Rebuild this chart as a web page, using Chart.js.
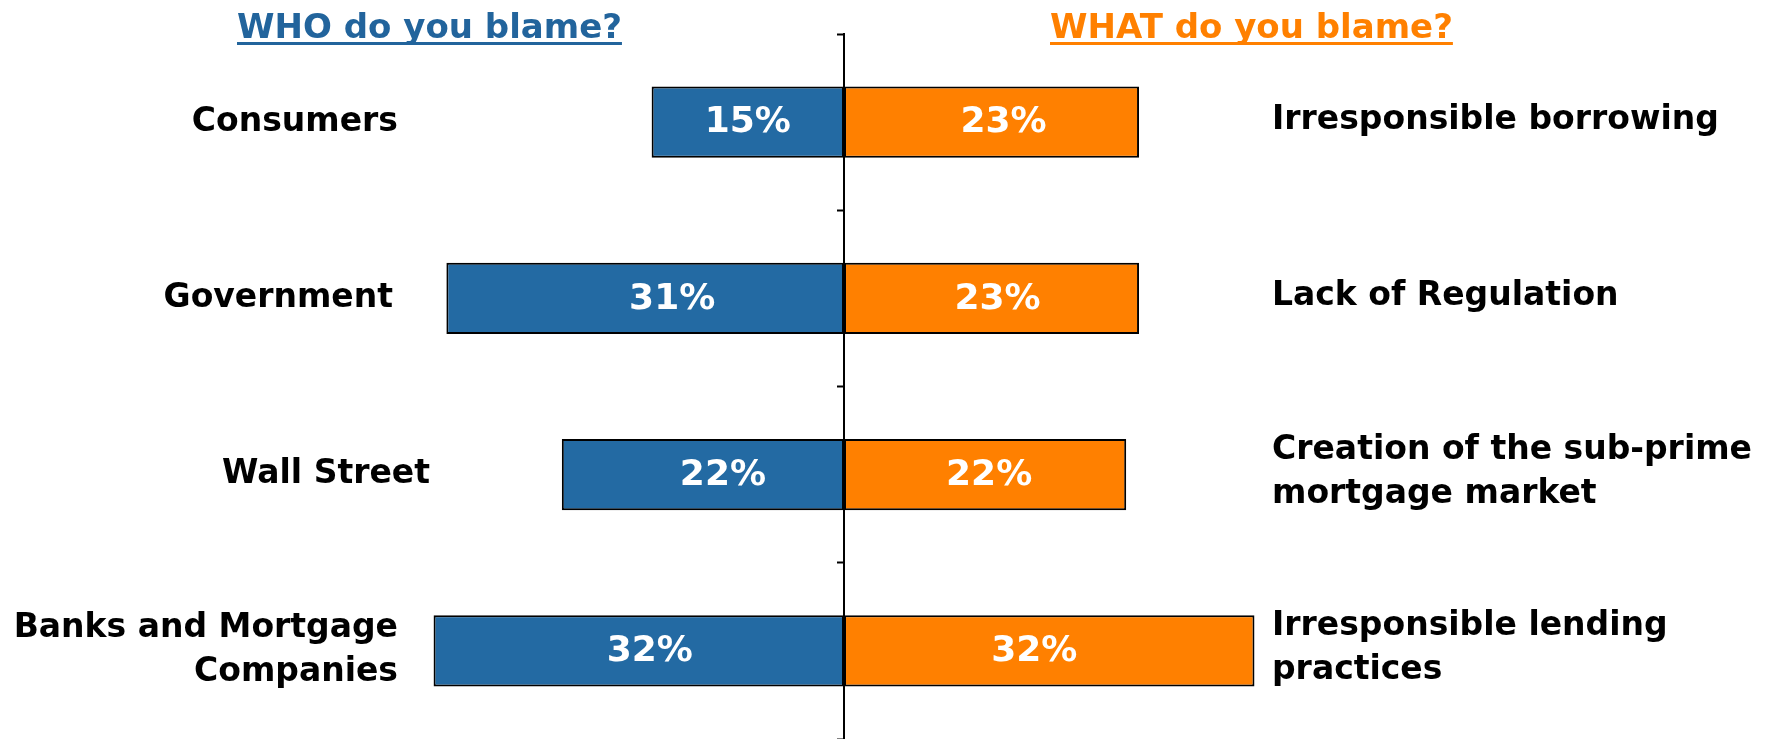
<!DOCTYPE html>
<html lang="en">
<head>
<meta charset="utf-8">
<title>Who and what do you blame?</title>
<script src="https://cdn.jsdelivr.net/npm/chart.js@4.4.1/dist/chart.umd.min.js"></script>
<style>
  html, body { margin: 0; padding: 0; background: #ffffff; }
  #wrap { position: relative; width: 1765px; height: 739px; }
</style>
</head>
<body>
<div id="wrap"><canvas id="blameChart"></canvas></div>
<script>
/**
 * Blame survey - butterfly bar chart
 * Left side: who gets blamed, right side: what gets blamed
 */

const whoLabels = ['Consumers', 'Government', 'Wall Street', ['Banks and Mortgage', 'Companies']];
const whatLabels = ['Irresponsible borrowing', 'Lack of Regulation', ['Creation of the sub-prime', 'mortgage market'], ['Irresponsible lending', 'practices']];
const whoShares = [15, 31, 22, 32];
const whatShares = [23, 23, 22, 32];

const WHO_TITLE = 'WHO do you blame?';
const WHAT_TITLE = 'WHAT do you blame?';

const BLUE = '#236aa3';
const BLUE_TITLE = '#22649c';
const ORANGE = '#ff8000';
const LABEL_FONT = "bold 33px 'DejaVu Sans', sans-serif";
const TITLE_FONT = "bold 34px 'DejaVu Sans', sans-serif";
const VALUE_FONT = "bold 36px 'DejaVu Sans', sans-serif";

// left captions are hand placed text boxes, not all flush
const LEFT_EDGE = 398;
const LEFT_NUDGE = [0, -5, 32, 0];
const RIGHT_EDGE = 1272;
const LINE_GAP = 44;

// in-bar percentages were dragged a little off centre
const WHO_VALUE_NUDGE = [0, 27, 20, 11];
const WHAT_VALUE_NUDGE = [12, 6, 4, -15];

/**
 * Draw one caption, single or multi line, centred on y
 */
function drawCaption(ctx, text, x, y, align) {
  const lines = Array.isArray(text) ? text : [text];
  ctx.textAlign = align;
  lines.forEach((line, i) => {
    const dy = (i - (lines.length - 1) / 2) * LINE_GAP;
    ctx.fillText(line, x, y + dy);
  });
}

/**
 * Underlined section heading
 */
function drawHeading(ctx, text, x, baseline, color) {
  ctx.font = TITLE_FONT;
  ctx.fillStyle = color;
  ctx.textAlign = 'left';
  ctx.textBaseline = 'alphabetic';
  ctx.fillText(text, x, baseline);
  const w = ctx.measureText(text).width;
  ctx.fillRect(x, baseline + 4, w, 3);
}

const blameText = {
  id: 'blameText',
  afterDatasetsDraw(chart) {
    const { ctx, scales } = chart;
    const yScale = scales.y;
    ctx.save();

    // percentages inside each bar
    ctx.font = VALUE_FONT;
    ctx.fillStyle = '#ffffff';
    ctx.textAlign = 'center';
    ctx.textBaseline = 'middle';
    chart.data.datasets.forEach((ds, di) => {
      const shares = di === 0 ? whoShares : whatShares;
      const nudge = di === 0 ? WHO_VALUE_NUDGE : WHAT_VALUE_NUDGE;
      chart.getDatasetMeta(di).data.forEach((bar, i) => {
        ctx.fillText(`${shares[i]}%`, (bar.x + bar.base) / 2 + nudge[i], bar.y + 1);
      });
    });

    // category captions either side
    ctx.font = LABEL_FONT;
    ctx.fillStyle = '#000000';
    whoLabels.forEach((label, i) => {
      const y = yScale.getPixelForValue(i);
      drawCaption(ctx, label, LEFT_EDGE + LEFT_NUDGE[i], y, 'right');
    });
    whatLabels.forEach((label, i) => {
      const y = yScale.getPixelForValue(i);
      drawCaption(ctx, label, RIGHT_EDGE, y - 2, 'left');
    });

    drawHeading(ctx, WHO_TITLE, 237, 38, BLUE_TITLE);
    drawHeading(ctx, WHAT_TITLE, 1050, 38, ORANGE);
    ctx.restore();
  },
};

const ctx = document.getElementById('blameChart').getContext('2d');

new Chart(ctx, {
  type: 'bar',
  data: {
    labels: whoLabels.map((w, i) => i),
    datasets: [
      {
        label: 'Who',
        data: whoShares.map(v => -v),
        backgroundColor: BLUE,
        borderColor: '#000000',
        borderWidth: 2,
        borderSkipped: false,
      },
      {
        label: 'What',
        data: whatShares,
        backgroundColor: ORANGE,
        borderColor: '#000000',
        borderWidth: 2,
        borderSkipped: false,
      },
    ],
  },
  options: {
    indexAxis: 'y',
    responsive: true,
    maintainAspectRatio: false,
    animation: false,
    layout: { padding: { top: 34, right: 0, bottom: 0, left: 0 } },
    datasets: {
      bar: { categoryPercentage: 1, barPercentage: 0.405 },
    },
    plugins: {
      legend: { display: false },
      tooltip: { enabled: false },
    },
    scales: {
      x: {
        stacked: true,
        display: false,
        min: -65.8,
        max: 71.8,
      },
      y: {
        stacked: true,
        position: { x: 0 },
        z: 1,
        ticks: { display: false },
        grid: {
          offset: true,
          drawOnChartArea: false,
          drawTicks: true,
          tickLength: 6,
          tickWidth: 2,
          tickColor: '#000000',
        },
        border: { display: true, color: '#000000', width: 2 },
      },
    },
  },
  plugins: [blameText],
});
</script>
</body>
</html>
